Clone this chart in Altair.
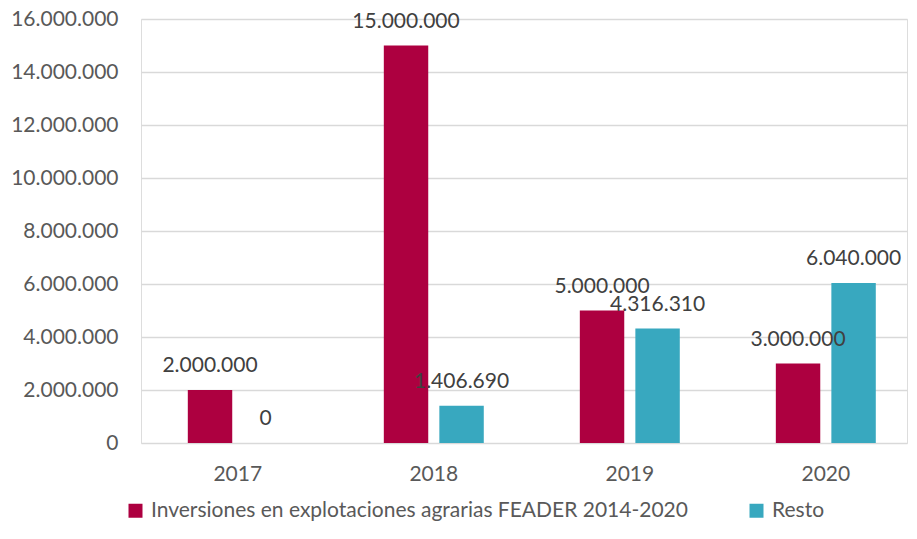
import altair as alt
import pandas as pd

years = ["2017", "2018", "2019", "2020"]
feader = [2000000, 15000000, 5000000, 3000000]
resto = [0, 1406690, 4316310, 6040000]
series = ["Inversiones en explotaciones agrarias FEADER 2014-2020", "Resto"]
colors = ["#AD0040", "#38A8BF"]
y_ticks = [0, 2000000, 4000000, 6000000, 8000000, 10000000, 12000000, 14000000, 16000000]

rows = []
for i, yr in enumerate(years):
    rows.append({"year": yr, "serie": series[0], "value": feader[i]})
    rows.append({"year": yr, "serie": series[1], "value": resto[i]})
df = pd.DataFrame(rows)

FONT = "Lato"

y_enc = alt.Y(
    "value:Q", title=None,
    scale=alt.Scale(domain=[0, 16000000], nice=False),
    axis=alt.Axis(values=y_ticks, format=",d", ticks=False, domain=False,
                  labelPadding=23, labelFontSize=21, labelColor="#595959", labelFont=FONT,
                  gridColor="#d9d9d9", gridWidth=1.5),
)

base = alt.Chart(df).encode(
    x=alt.X(
        "year:N", title=None, sort=years,
        scale=alt.Scale(paddingInner=0.49, paddingOuter=0.199, align=0.6),
        axis=alt.Axis(labelAngle=0, ticks=False, domain=False, labelPadding=20,
                      labelFontSize=21, labelColor="#595959", labelFont=FONT, grid=False),
    ),
    xOffset=alt.XOffset("serie:N", sort=series, scale=alt.Scale(paddingInner=0.2, paddingOuter=0)),
    y=y_enc,
)

bars = base.mark_bar().encode(
    color=alt.Color(
        "serie:N", sort=series,
        scale=alt.Scale(domain=series, range=colors),
        legend=alt.Legend(
            title=None, orient="none", legendX=-16, legendY=481, direction="horizontal",
            symbolType="square", symbolSize=196, symbolStrokeWidth=0, labelOffset=5,
            labelFontSize=21, labelFont=FONT, labelColor="#595959", labelLimit=0,
            columnPadding=58,
        ),
    ),
)

labels = base.mark_text(baseline="alphabetic", dy=-18, fontSize=21, font=FONT, color="#404040").encode(
    text=alt.Text("value:Q", format=",d"),
)

chart = (
    alt.layer(bars, labels)
    .properties(
        width=766, height=424, background="white",
        autosize=alt.AutoSizeParams(type="none"),
        padding={"left": 133, "top": 11, "right": 2, "bottom": 80},
    )
    .configure_view(stroke=None)
    .configure(locale={"number": {"decimal": ",", "thousands": ".", "grouping": [3], "currency": ["", " €"]}})
)

chart.save("out.html", embed_options={"renderer": "svg", "actions": False})
